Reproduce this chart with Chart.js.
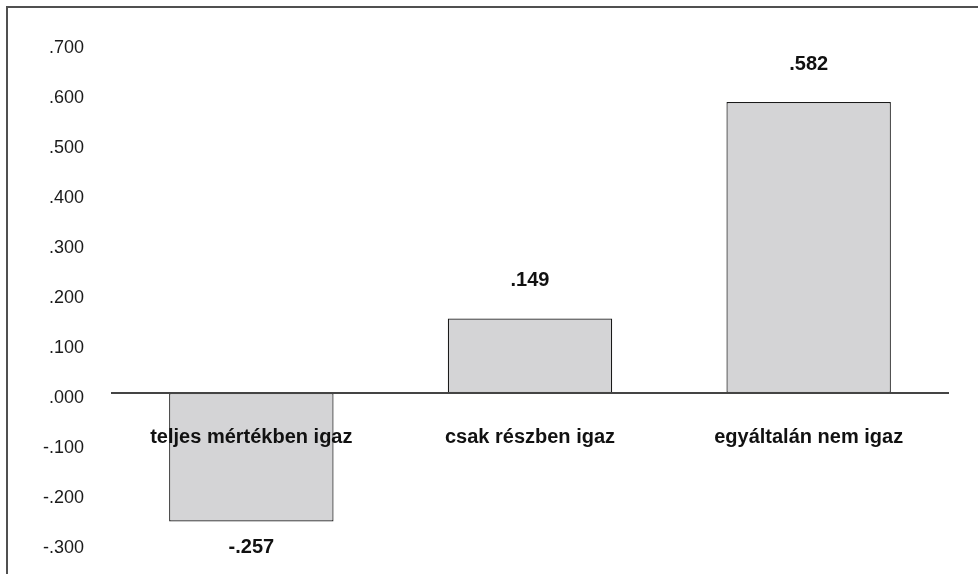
<!DOCTYPE html>
<html>
<head>
<meta charset="utf-8">
<script src="https://cdn.jsdelivr.net/npm/chart.js@4.4.1/dist/chart.umd.min.js"></script>
<style>
  html, body { margin: 0; padding: 0; background: #fff; }
  #wrap { position: relative; width: 978px; height: 574px; }
  #frame {
    position: absolute; left: 6px; top: 6px; right: 0; bottom: 0;
    border-left: 2px solid #505050; border-top: 2px solid #505050;
    pointer-events: none;
  }
</style>
</head>
<body>
<div id="wrap">
  <canvas id="myChart" width="978" height="574"></canvas>
  <div id="frame"></div>
</div>
<script>
// adatok
const categories = ['teljes mértékben igaz', 'csak részben igaz', 'egyáltalán nem igaz'];
const values = [-0.257, 0.149, 0.582];
const yTicks = [-0.3, -0.2, -0.1, 0, 0.1, 0.2, 0.3, 0.4, 0.5, 0.6, 0.7];

// .582 / -.257 formátum
const fmt = v => {
  const s = Math.abs(v).toFixed(3).replace(/^0/, '');
  return (v < -0.0005 ? '-' : '') + s;
};

const valueLabels = {
  id: 'valueLabels',
  afterDatasetsDraw(chart) {
    const ctx = chart.ctx;
    const meta = chart.getDatasetMeta(0);
    ctx.save();
    ctx.font = 'bold 20px "Liberation Sans", Arial, sans-serif';
    ctx.fillStyle = '#111';
    ctx.textAlign = 'center';
    ctx.textBaseline = 'middle';
    meta.data.forEach((bar, i) => {
      const v = values[i];
      const y = v >= 0 ? bar.y - 38 : bar.y + 26;
      ctx.fillText(fmt(v), bar.x, y);
    });
    ctx.restore();
  }
};

const ctx = document.getElementById('myChart').getContext('2d');
new Chart(ctx, {
  type: 'bar',
  data: {
    labels: categories,
    datasets: [{
      data: values,
      backgroundColor: '#d4d4d6',
      borderColor: '#1a1a1a',
      borderWidth: 1.2,
      borderSkipped: false,
      categoryPercentage: 1,
      barPercentage: 0.59
    }]
  },
  options: {
    responsive: false,
    animation: false,
    layout: { autoPadding: false, padding: { top: 43, bottom: 31, left: 0, right: 30 } },
    plugins: { legend: { display: false }, tooltip: { enabled: false } },
    scales: {
      x: {
        position: { y: 0 },
        grid: { display: false, drawTicks: false },
        border: { display: true, color: '#444', width: 2, z: 1 },
        afterFit(scale) { scale.height = 0; },
        ticks: {
          z: 1,
          padding: 32,
          color: '#111',
          font: { family: '"Liberation Sans", Arial, sans-serif', size: 20, weight: 'bold' }
        }
      },
      y: {
        min: -0.3,
        max: 0.7,
        grid: { display: false, drawTicks: false },
        border: { display: false },
        // a címkék félmagassága ne tolja el a rajzterületet
        afterFit(scale) {
          scale.width = 112;
          scale.paddingTop = 0;
          scale.paddingBottom = 0;
        },
        afterBuildTicks(scale) { scale.ticks = yTicks.map(v => ({ value: v })); },
        ticks: {
          padding: 28,
          labelOffset: 5,
          color: '#1a1a1a',
          font: { family: '"Liberation Sans", Arial, sans-serif', size: 18 },
          callback: v => fmt(v)
        }
      }
    }
  },
  plugins: [valueLabels]
});
</script>
</body>
</html>
